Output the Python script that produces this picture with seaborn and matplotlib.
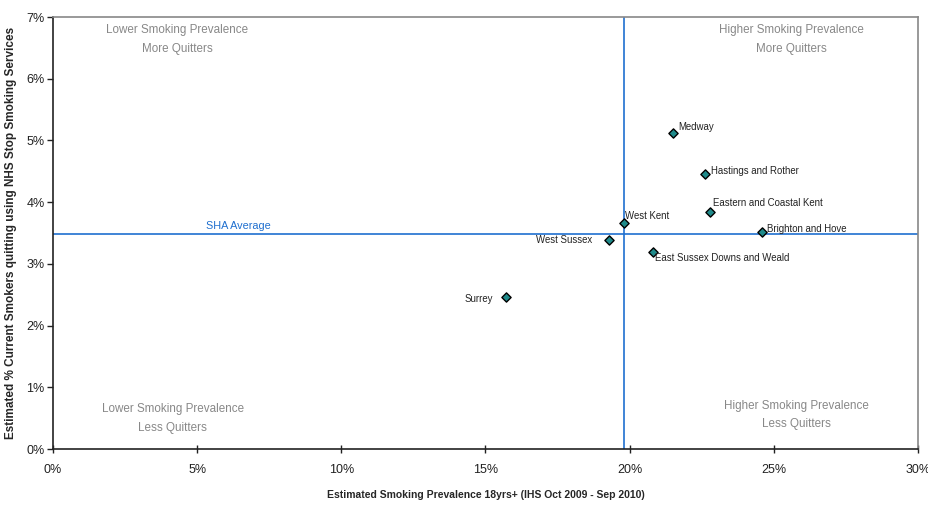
import matplotlib
matplotlib.use("Agg")
import matplotlib.pyplot as plt
import seaborn as sns
import pandas as pd
from matplotlib.ticker import FuncFormatter, MultipleLocator

areas = ["Medway", "Hastings and Rother", "Eastern and Coastal Kent", "Brighton and Hove",
         "West Kent", "West Sussex", "East Sussex Downs and Weald", "Surrey"]
prevalence = [21.5, 22.6, 22.8, 24.6, 19.8, 19.3, 20.8, 15.7]
quitters = [5.12, 4.46, 3.84, 3.52, 3.67, 3.39, 3.20, 2.47]
sha_prevalence = 19.8
sha_quitters = 3.48

label_offsets = {  # pixels
    "Medway": (5, 6, "left"),
    "Hastings and Rother": (6, 3, "left"),
    "Eastern and Coastal Kent": (3, 9, "left"),
    "Brighton and Hove": (5, 3, "left"),
    "West Kent": (1, 7, "left"),
    "West Sussex": (-17, 0, "right"),
    "East Sussex Downs and Weald": (2, -6, "left"),
    "Surrey": (-13, -2, "right"),
}

sns.set_style("white")
plt.rcParams["font.family"] = ["Liberation Sans Narrow", "Liberation Sans", "DejaVu Sans"]

df = pd.DataFrame({"area": areas, "prev": prevalence, "quit": quitters})

fig = plt.figure(figsize=(9.29, 5.05), dpi=100)
ax = fig.add_axes([53/929, 1 - 449/505, (918-53)/929, (449-17)/505])

blue = "#1f6fcf"
ax.axvline(sha_prevalence, color=blue, lw=1.2, zorder=1)
ax.axhline(sha_quitters, color=blue, lw=1.2, zorder=1)

sns.scatterplot(data=df, x="prev", y="quit", ax=ax, marker="D", s=22,
                color="#1f8a8a", edgecolor="black", linewidth=1.0, zorder=3, legend=False)

for a, px, q in zip(areas, prevalence, quitters):
    dx, dy, ha = label_offsets[a]
    ax.annotate(a, (px, q), xytext=(dx, dy), textcoords="offset pixels",
                ha=ha, va="center", fontsize=6.9, color="#222222")

ax.text(5.3, 3.62, "SHA Average", color=blue, fontsize=7.8, ha="left", va="center")

gray = "#888888"
qfs = 8.4
qls = 1.75
ax.text(4.3, 6.63, "Lower Smoking Prevalence\nMore Quitters", ha="center", va="center",
        color=gray, fontsize=qfs, linespacing=qls)
ax.text(25.6, 6.63, "Higher Smoking Prevalence\nMore Quitters", ha="center", va="center",
        color=gray, fontsize=qfs, linespacing=qls)
ax.text(4.15, 0.49, "Lower Smoking Prevalence\nLess Quitters", ha="center", va="center",
        color=gray, fontsize=qfs, linespacing=qls)
ax.text(25.8, 0.55, "Higher Smoking Prevalence\nLess Quitters", ha="center", va="center",
        color=gray, fontsize=qfs, linespacing=qls)

ax.set_xlim(0, 30)
ax.set_ylim(0, 7)
ax.xaxis.set_major_locator(MultipleLocator(5))
ax.yaxis.set_major_locator(MultipleLocator(1))
pct = FuncFormatter(lambda v, p: f"{v:.0f}%")
ax.xaxis.set_major_formatter(pct)
ax.yaxis.set_major_formatter(pct)
ax.tick_params(axis="x", direction="inout", length=6, width=1, labelsize=9, pad=8, colors="#222222")
ax.tick_params(axis="y", direction="out", length=4, width=1, labelsize=9, pad=2, colors="#222222")
ax.tick_params(axis="both", bottom=True, left=True)

for s in ["left", "bottom"]:
    ax.spines[s].set_color("#222222")
    ax.spines[s].set_linewidth(1.2)
for s in ["top", "right"]:
    ax.spines[s].set_color(gray)
    ax.spines[s].set_linewidth(1.2)

ax.set_xlabel("Estimated Smoking Prevalence 18yrs+ (IHS Oct 2009 - Sep 2010)",
              fontsize=7.5, fontweight="bold", labelpad=10)
ax.set_ylabel("Estimated % Current Smokers quitting using NHS Stop Smoking Services",
              fontsize=8.5, fontweight="bold", labelpad=7)

fig.savefig("out.png", dpi=100)
